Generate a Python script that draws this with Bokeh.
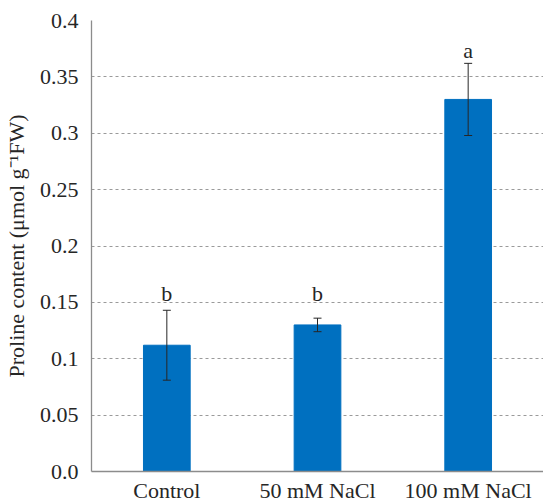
from bokeh.plotting import figure
from bokeh.models import ColumnDataSource, Whisker, TeeHead, FixedTicker, Range1d, FactorRange
from bokeh.core.properties import value
from bokeh.embed import file_html
from bokeh.resources import INLINE

categories = ["Control", "50 mM NaCl", "100 mM NaCl"]
means = [0.112, 0.130, 0.330]
errors = [0.031, 0.006, 0.032]
letters = ["b", "b", "a"]
letter_y = [0.158, 0.158, 0.373]
y_ticks = [0.0, 0.05, 0.1, 0.15, 0.2, 0.25, 0.3, 0.35, 0.4]
y_tick_labels = ["0.0", "0.05", "0.1", "0.15", "0.2", "0.25", "0.3", "0.35", "0.4"]

FONT = "Liberation Serif"
TXT = "#262626"

src = ColumnDataSource(dict(
    cat=categories, mean=means,
    upper=[m + e for m, e in zip(means, errors)],
    lower=[m - e for m, e in zip(means, errors)],
    letter=letters, ly=letter_y,
))

p = figure(frame_width=452, frame_height=451, x_range=FactorRange(*categories, range_padding=0),
           y_range=Range1d(0, 0.4), output_backend="svg", toolbar_location=None,
           min_border_left=84, min_border_right=0, min_border_top=20, min_border_bottom=22)
p.outline_line_color = None
p.background_fill_color = "white"

p.vbar(x="cat", top="mean", width=0.31, source=src, fill_color="#0070C0", line_color="#0070C0")

w = Whisker(source=src, base="cat", upper="upper", lower="lower", line_color=TXT, line_width=1,
            upper_head=TeeHead(size=8, line_color=TXT, line_width=1),
            lower_head=TeeHead(size=8, line_color=TXT, line_width=1), level="overlay")
p.add_layout(w)

p.text(x="cat", y="ly", text="letter", source=src, text_align="center", text_baseline="alphabetic",
       text_font=value(FONT), text_font_size="22px", text_color=TXT)

p.yaxis.ticker = FixedTicker(ticks=y_ticks)
p.yaxis.major_label_overrides = {t: l for t, l in zip(y_ticks, y_tick_labels)}
p.ygrid.ticker = FixedTicker(ticks=y_ticks[1:-1])
p.ygrid.grid_line_color = "#9a9a9a"
p.ygrid.grid_line_dash = "3 3"
p.ygrid.grid_line_width = 1
p.xgrid.grid_line_color = None

for ax in (p.xaxis, p.yaxis):
    ax.axis_line_color = "#8c8c8c"
    ax.axis_line_width = 1.3
    ax.major_tick_line_color = None
    ax.minor_tick_line_color = None
    ax.major_tick_out = 0
    ax.major_tick_in = 0
    ax.major_label_text_font = FONT
    ax.major_label_text_font_size = "22px"
    ax.major_label_text_color = TXT

p.yaxis.major_label_standoff = 13
p.xaxis.major_label_standoff = 6
p.yaxis.axis_label = "Proline content (\u03bcmol g\u207b\u00b9FW)"
p.yaxis.axis_label_text_font = FONT
p.yaxis.axis_label_text_font_size = "22px"
p.yaxis.axis_label_text_font_style = "normal"
p.yaxis.axis_label_text_color = TXT
p.yaxis.axis_label_standoff = 8

open("out.html", "w").write(file_html(p, INLINE))
